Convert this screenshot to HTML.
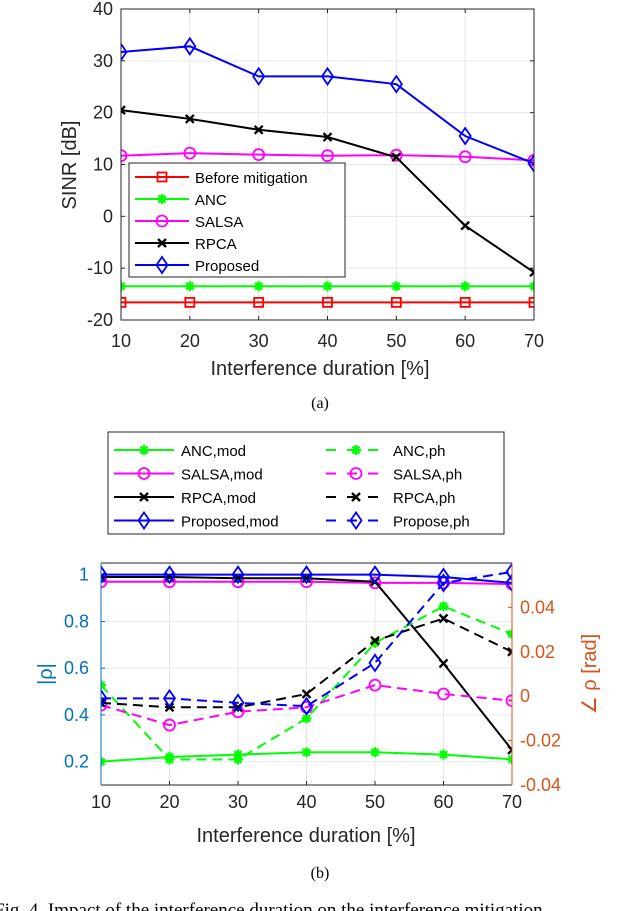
<!DOCTYPE html>
<html><head><meta charset="utf-8"><style>
html,body{margin:0;padding:0;background:#fff;width:640px;height:911px;overflow:hidden}
svg text{font-family:"Liberation Sans",sans-serif}
</style></head><body>
<svg id="s" width="640" height="911" xmlns="http://www.w3.org/2000/svg">
<defs>
<clipPath id="c1"><rect x="121" y="9" width="413" height="311"/></clipPath>
<clipPath id="c2"><rect x="101" y="563" width="411" height="222"/></clipPath>
</defs>
<g id="top"></g>
<g id="bot"></g>
<text x="320" y="408" font-size="16" text-anchor="middle" style="font-family:'Liberation Serif',serif">(a)</text>
<text x="320" y="878" font-size="16" text-anchor="middle" style="font-family:'Liberation Serif',serif">(b)</text>
<text x="-6" y="916" font-size="19" style="font-family:'Liberation Serif',serif">Fig. 4.   Impact of the interference duration on the interference mitigation</text>
</svg>
<script>
const xs=[10,20,30,40,50,60,70];
const topYTicks=[-20,-10,0,10,20,30,40];
const beforeVals=[-16.6,-16.6,-16.6,-16.6,-16.6,-16.6,-16.6];
const ancVals=[-13.5,-13.5,-13.5,-13.5,-13.5,-13.5,-13.5];
const salsaVals=[11.7,12.2,11.9,11.7,11.8,11.5,10.8];
const rpcaVals=[20.5,18.8,16.7,15.3,11.4,-1.8,-10.8];
const propVals=[31.7,32.8,27,27,25.5,15.5,10.2];
const leftTicks=[0.2,0.4,0.6,0.8,1];
const rightTicks=[-0.04,-0.02,0,0.02,0.04];
const rightTickLabels=["-0.04","-0.02","0","0.02","0.04"];
const ancMod=[0.2,0.22,0.23,0.24,0.24,0.23,0.21];
const salsaMod=[0.97,0.97,0.97,0.97,0.965,0.965,0.96];
const rpcaMod=[0.99,0.99,0.985,0.985,0.97,0.62,0.25];
const propMod=[1.0,1.0,1.0,1.0,1.0,0.99,0.965];
const ancPh=[0.005,-0.0285,-0.0285,-0.01,0.024,0.0405,0.028];
const salsaPh=[-0.004,-0.013,-0.007,-0.005,0.005,0.001,-0.002];
const rpcaPh=[-0.003,-0.005,-0.005,0.001,0.025,0.035,0.02];
const propPh=[-0.001,-0.001,-0.003,-0.0045,0.015,0.051,0.056];

const NS="http://www.w3.org/2000/svg";
function mk(parent,tag,attrs){const e=document.createElementNS(NS,tag);for(const k in attrs)e.setAttribute(k,attrs[k]);parent.appendChild(e);return e;}
function marker(g,type,x,y,color,w){
  let e;
  if(type==='sq')e=mk(g,'rect',{x:x-4.5,y:y-4.5,width:9,height:9,fill:'none',stroke:color,'stroke-width':w});
  else if(type==='o')e=mk(g,'circle',{cx:x,cy:y,r:5.5,fill:'none',stroke:color,'stroke-width':w});
  else if(type==='d')e=mk(g,'polygon',{points:`${x},${y-8} ${x+5.5},${y} ${x},${y+8} ${x-5.5},${y}`,fill:'none',stroke:color,'stroke-width':w});
  else if(type==='x')e=mk(g,'path',{d:`M${x-4},${y-4}L${x+4},${y+4}M${x-4},${y+4}L${x+4},${y-4}`,stroke:color,'stroke-width':w+0.5});
  else if(type==='*')e=mk(g,'path',{d:`M${x-5},${y}L${x+5},${y}M${x},${y-5}L${x},${y+5}M${x-3.5},${y-3.5}L${x+3.5},${y+3.5}M${x-3.5},${y+3.5}L${x+3.5},${y-3.5}`,stroke:color,'stroke-width':w+0.5});
  
  
}
function series(g,vals,X,Y,color,mt,dash,name){
  const sg=mk(g,'g',{});
  
  
  const pts=vals.map((v,i)=>X(xs[i])+','+Y(v)).join(' ');
  const p=mk(sg,'polyline',{points:pts,fill:'none',stroke:color,'stroke-width':2});
  if(dash)p.setAttribute('stroke-dasharray','10,6');
  
  
  vals.forEach((v,i)=>marker(sg,mt,X(xs[i]),Y(v),color,1.8));
}
// TOP
const T=document.getElementById('top');
const tL=121,tR=534,tT=9,tB=320;
const tx=v=>tL+(v-10)/60*(tR-tL), ty=v=>tB-(v+20)/60*(tB-tT);
xs.forEach(v=>{const l=mk(T,'line',{x1:tx(v),x2:tx(v),y1:tT,y2:tB,stroke:'#e6e6e6'});});
topYTicks.forEach(v=>{const l=mk(T,'line',{x1:tL,x2:tR,y1:ty(v),y2:ty(v),stroke:'#e6e6e6'});
 const t=mk(T,'text',{x:tL-8,y:ty(v)+6,'font-size':18,'text-anchor':'end',fill:'#262626'});t.textContent=v;
 mk(T,'line',{x1:tL,x2:tL+4,y1:ty(v),y2:ty(v),stroke:'#262626'});mk(T,'line',{x1:tR,x2:tR-4,y1:ty(v),y2:ty(v),stroke:'#262626'});});
xs.forEach(v=>{const t=mk(T,'text',{x:tx(v),y:tB+27,'font-size':18,'text-anchor':'middle',fill:'#262626'});t.textContent=v;
 mk(T,'line',{x1:tx(v),x2:tx(v),y1:tB,y2:tB-4,stroke:'#262626'});mk(T,'line',{x1:tx(v),x2:tx(v),y1:tT,y2:tT+4,stroke:'#262626'});});
const tc=mk(T,'g',{'clip-path':'url(#c1)'});
series(tc,beforeVals,tx,ty,'#ff0000','sq',false,'series-before-mitigation');
series(tc,ancVals,tx,ty,'#00ff00','*',false,'series-anc');
series(tc,salsaVals,tx,ty,'#ff00ff','o',false,'series-salsa');
series(tc,rpcaVals,tx,ty,'#000000','x',false,'series-rpca');
series(tc,propVals,tx,ty,'#0000ff','d',false,'series-proposed');
const lg=mk(T,'g',{});
mk(lg,'rect',{x:129,y:163,width:216,height:114,fill:'#fff',stroke:'#262626'});
[['Before mitigation','#ff0000','sq'],['ANC','#00ff00','*'],['SALSA','#ff00ff','o'],['RPCA','#000000','x'],['Proposed','#0000ff','d']].forEach((e,i)=>{
 const y=177+i*22;const gg=mk(lg,'g',{});
 mk(gg,'line',{x1:135,x2:189,y1:y,y2:y,stroke:e[1],'stroke-width':2});marker(gg,e[2],162,y,e[1],1.8);
 const t=mk(gg,'text',{x:195,y:y+6,'font-size':15,fill:'#000'});t.textContent=e[0];});
mk(T,'rect',{x:tL,y:tT,width:tR-tL,height:tB-tT,fill:'none',stroke:'#262626'});
let t1=mk(T,'text',{x:320,y:375,'font-size':20,'text-anchor':'middle',fill:'#262626'});t1.textContent='Interference duration [%]';
let t2=mk(T,'text',{x:0,y:0,'font-size':20,'text-anchor':'middle',fill:'#262626',transform:'translate(76,165) rotate(-90)'});t2.textContent='SINR [dB]';

// BOTTOM
const B=document.getElementById('bot');
const bL=101,bR=512,bT=563,bB=785;
const bx=v=>bL+(v-10)/60*(bR-bL), byL=v=>bB-(v-0.1)/0.95*(bB-bT), byR=v=>bB-(v+0.04)/0.10*(bB-bT);
const blue='#0072bd',org='#d95319';
xs.forEach(v=>{mk(B,'line',{x1:bx(v),x2:bx(v),y1:bT,y2:bB,stroke:'#e6e6e6'});
 const t=mk(B,'text',{x:bx(v),y:bB+23,'font-size':18,'text-anchor':'middle',fill:'#262626'});t.textContent=v;
 mk(B,'line',{x1:bx(v),x2:bx(v),y1:bB,y2:bB-4,stroke:'#262626'});});
leftTicks.forEach(v=>{mk(B,'line',{x1:bL,x2:bR,y1:byL(v),y2:byL(v),stroke:'#e1ecf7'});
 const t=mk(B,'text',{x:bL-12,y:byL(v)+6,'font-size':18,'text-anchor':'end',fill:blue});t.textContent=v;
 mk(B,'line',{x1:bL,x2:bL+4,y1:byL(v),y2:byL(v),stroke:blue});});
rightTicks.forEach((v,i)=>{const t=mk(B,'text',{x:bR+8,y:byR(v)+6,'font-size':18,fill:org});t.textContent=rightTickLabels[i];
 mk(B,'line',{x1:bR,x2:bR-4,y1:byR(v),y2:byR(v),stroke:org});});
const bc=mk(B,'g',{'clip-path':'url(#c2)'});
series(bc,ancMod,bx,byL,'#00ff00','*',false,'series-anc-mod');
series(bc,salsaMod,bx,byL,'#ff00ff','o',false,'series-salsa-mod');
series(bc,rpcaMod,bx,byL,'#000000','x',false,'series-rpca-mod');
series(bc,propMod,bx,byL,'#0000ff','d',false,'series-proposed-mod');
series(bc,ancPh,bx,byR,'#00ff00','*',true,'series-anc-ph');
series(bc,salsaPh,bx,byR,'#ff00ff','o',true,'series-salsa-ph');
series(bc,rpcaPh,bx,byR,'#000000','x',true,'series-rpca-ph');
series(bc,propPh,bx,byR,'#0000ff','d',true,'series-propose-ph');
mk(B,'line',{x1:bL,x2:bR,y1:bT,y2:bT,stroke:'#262626'});
mk(B,'line',{x1:bL,x2:bR,y1:bB,y2:bB,stroke:'#262626'});
mk(B,'line',{x1:bL,x2:bL,y1:bT,y2:bB,stroke:blue});
mk(B,'line',{x1:bR,x2:bR,y1:bT,y2:bB,stroke:org});
let t3=mk(B,'text',{x:306,y:842,'font-size':20,'text-anchor':'middle',fill:'#262626'});t3.textContent='Interference duration [%]';
let t4=mk(B,'text',{x:0,y:0,'font-size':20,'text-anchor':'middle',fill:blue,transform:'translate(52,674) rotate(-90)'});t4.textContent='|ρ|';
let t5=mk(B,'text',{x:0,y:0,'font-size':20,'text-anchor':'middle',fill:org,transform:'translate(596,674) rotate(-90)'});t5.textContent='∠ ρ [rad]';
const lb=mk(B,'g',{});
mk(lb,'rect',{x:108,y:432,width:396,height:102,fill:'#fff',stroke:'#262626'});
const le=[['ANC,mod','#00ff00','*',false],['SALSA,mod','#ff00ff','o',false],['RPCA,mod','#000000','x',false],['Proposed,mod','#0000ff','d',false],
['ANC,ph','#00ff00','*',true],['SALSA,ph','#ff00ff','o',true],['RPCA,ph','#000000','x',true],['Propose,ph','#0000ff','d',true]];
le.forEach((e,i)=>{const col=i<4?0:1,row=i%4;const y=450+row*23.5;const x0=col?326:114;
 const gg=mk(lb,'g',{});
 const l=mk(gg,'line',{x1:x0,x2:x0+60,y1:y,y2:y,stroke:e[1],'stroke-width':2});if(e[3])l.setAttribute('stroke-dasharray','10,11');
 marker(gg,e[2],x0+30,y,e[1],1.8);
 const t=mk(gg,'text',{x:x0+67,y:y+6,'font-size':15,fill:'#000'});t.textContent=e[0];});
</script>
</body></html>
